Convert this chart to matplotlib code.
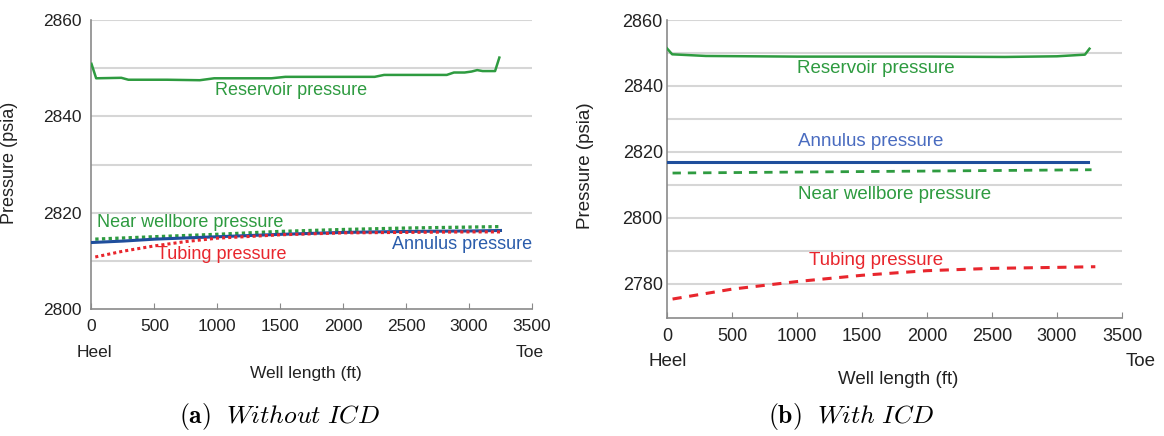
import matplotlib
matplotlib.use("Agg")
import matplotlib.pyplot as plt

plt.rcParams['font.family'] = ['Liberation Sans', 'DejaVu Sans']
plt.rcParams['mathtext.fontset'] = 'cm'

# ---------------- data: (a) without ICD ----------------
res_a_x = [0, 37, 237, 293, 600, 861, 975, 1430, 1540, 2250, 2325, 2823, 2880, 2965, 3020, 3065, 3108, 3207, 3241]
res_a_y = [2850.9, 2847.9, 2848.0, 2847.6, 2847.6, 2847.5, 2847.9, 2847.9, 2848.2, 2848.2, 2848.6, 2848.6, 2849.1, 2849.1, 2849.3, 2849.6, 2849.4, 2849.4, 2852.2]

ann_a_x = [0, 250, 500, 1000, 1500, 2000, 2500, 3000, 3250]
ann_a_y = [2813.8, 2814.1, 2814.5, 2815.0, 2815.5, 2815.9, 2816.1, 2816.2, 2816.3]

nw_a_x = [30, 500, 1000, 1500, 2000, 2500, 3000, 3250]
nw_a_y = [2814.5, 2815.0, 2815.5, 2816.1, 2816.5, 2816.8, 2817.0, 2817.1]

tub_a_x = [30, 250, 500, 750, 1000, 1500, 2000, 2500, 3000, 3250]
tub_a_y = [2810.8, 2812.0, 2813.1, 2814.0, 2814.7, 2815.4, 2815.8, 2815.9, 2816.0, 2816.0]

# ---------------- data: (b) with ICD ----------------
res_b_x = [0, 40, 300, 1000, 2000, 2600, 3000, 3215, 3250]
res_b_y = [2851.4, 2849.6, 2849.1, 2848.9, 2848.9, 2848.8, 2849.0, 2849.5, 2851.3]

ann_b_x = [0, 3238]
ann_b_y = [2816.9, 2816.9]

nw_b_x = [43, 1000, 2000, 3266]
nw_b_y = [2813.6, 2813.9, 2814.2, 2814.6]

tub_b_x = [43, 500, 1000, 1500, 2000, 2500, 3000, 3295]
tub_b_y = [2775.4, 2778.4, 2780.7, 2782.6, 2784.0, 2784.7, 2785.0, 2785.2]

x_ticks = [0, 500, 1000, 1500, 2000, 2500, 3000, 3500]
y_ticks_a = [2800, 2820, 2840, 2860]
y_ticks_b = [2780, 2800, 2820, 2840, 2860]
grid_a = [2810, 2820, 2830, 2840, 2850, 2860]
grid_b = [2780, 2790, 2800, 2810, 2820, 2830, 2840, 2850, 2860]

GREEN = '#2e9b40'
BLUE = '#1f4e9c'
BLUE_LBL = '#2a5cab'
BLUE_LBL_B = '#4a6cc0'
RED = '#e8262d'
GRID = '#d6d6d6'
SPINE = '#8a8a8a'

fig = plt.figure(figsize=(11.64, 4.36), dpi=100)
ax1 = fig.add_axes([0.0786, 0.2913, 0.3784, 0.6628])
ax2 = fig.add_axes([0.5730, 0.2695, 0.3909, 0.6846])


def style(ax, yticks, grid, ylim, fs, ypad):
    ax.set_xlim(0, 3500)
    ax.set_ylim(*ylim)
    for g in grid:
        ax.axhline(g, color=GRID, lw=1.5, zorder=0)
    ax.set_xticks(x_ticks)
    ax.set_yticks(yticks)
    for s in ['top', 'right']:
        ax.spines[s].set_visible(False)
    for s in ['left', 'bottom']:
        ax.spines[s].set_color(SPINE)
        ax.spines[s].set_linewidth(1.2)
    ax.tick_params(axis='x', direction='in', length=4, color=SPINE, labelsize=fs, pad=7, labelcolor='#222222')
    ax.tick_params(axis='y', length=0, labelsize=fs, pad=ypad, labelcolor='#222222')


style(ax1, y_ticks_a, grid_a, (2800, 2860), 12.5, 7)
style(ax2, y_ticks_b, grid_b, (2769.5, 2860), 13, 3)

# panel (a)
ax1.plot(res_a_x, res_a_y, color=GREEN, lw=1.8, zorder=3)
ax1.plot(nw_a_x, nw_a_y, color=GREEN, lw=2.4, ls=(0, (1, 1)), zorder=3)
ax1.plot(ann_a_x, ann_a_y, color=BLUE, lw=2.2, zorder=4)
ax1.plot(tub_a_x, tub_a_y, color=RED, lw=2.2, ls=(0, (1, 1)), zorder=5)

ax1.text(1587, 2845.3, 'Reservoir pressure', color=GREEN, fontsize=13, ha='center', va='center')
ax1.text(40, 2817.9, 'Near wellbore pressure', color=GREEN, fontsize=13, ha='left', va='center')
ax1.text(520, 2811.4, 'Tubing pressure', color=RED, fontsize=13, ha='left', va='center')
ax1.text(2388, 2813.4, 'Annulus pressure', color=BLUE_LBL, fontsize=13, ha='left', va='center')

# panel (b)
ax2.plot(res_b_x, res_b_y, color=GREEN, lw=1.8, zorder=3)
ax2.plot(ann_b_x, ann_b_y, color=BLUE, lw=2.2, zorder=4)
ax2.plot(nw_b_x, nw_b_y, color=GREEN, lw=2.0, ls=(0, (3, 2.5)), zorder=3)
ax2.plot(tub_b_x, tub_b_y, color=RED, lw=2.2, ls=(0, (3, 2.5)), zorder=5)

ax2.text(997, 2845.2, 'Reservoir pressure', color=GREEN, fontsize=13.5, ha='left', va='center')
ax2.text(1008, 2823.1, 'Annulus pressure', color=BLUE_LBL_B, fontsize=13.5, ha='left', va='center')
ax2.text(1008, 2807.0, 'Near wellbore pressure', color=GREEN, fontsize=13.5, ha='left', va='center')
ax2.text(1094, 2787.0, 'Tubing pressure', color=RED, fontsize=13.5, ha='left', va='center')

# axis labels
ax1.set_ylabel('Pressure (psia)', fontsize=13, color='#222222')
ax1.yaxis.set_label_coords(-0.167, 0.505)
ax2.set_ylabel('Pressure (psia)', fontsize=13.5, color='#222222')
ax2.yaxis.set_label_coords(-0.160, 0.511)

ax1.text(0.487, -0.222, 'Well length (ft)', transform=ax1.transAxes, fontsize=12.5,
         ha='center', va='center', color='#222222')
ax2.text(0.508, -0.206, 'Well length (ft)', transform=ax2.transAxes, fontsize=13.5,
         ha='center', va='center', color='#222222')

ax1.text(0.006, -0.151, 'Heel', transform=ax1.transAxes, fontsize=12.5, ha='center', va='center', color='#222222')
ax1.text(0.995, -0.151, 'Toe', transform=ax1.transAxes, fontsize=12.5, ha='center', va='center', color='#222222')
ax2.text(0.001, -0.145, 'Heel', transform=ax2.transAxes, fontsize=13.5, ha='center', va='center', color='#222222')
ax2.text(1.042, -0.145, 'Toe', transform=ax2.transAxes, fontsize=13.5, ha='center', va='center', color='#222222')

# captions
fig.text(0.2397, 0.0436, r'$\mathbf{(a)}\ \ \mathit{Without\ ICD}$', fontsize=18.5, ha='center', va='center')
fig.text(0.731, 0.0436, r'$\mathbf{(b)}\ \ \mathit{With\ ICD}$', fontsize=18.5, ha='center', va='center')

fig.savefig('out.png', dpi=100)
